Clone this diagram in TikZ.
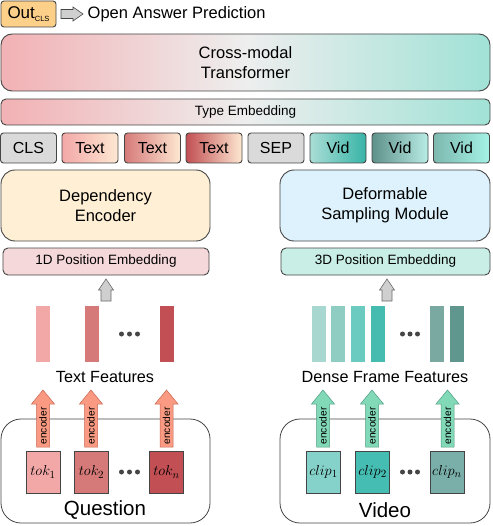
\documentclass[tikz,border=0pt]{standalone}
\usepackage{fontspec}
\setmainfont{Liberation Sans}
\definecolor{lineC}{HTML}{454545}
\definecolor{outC}{HTML}{FDD08A}
\definecolor{pinkL}{HTML}{F2B3B6}
\definecolor{grayM}{HTML}{EEEEEE}
\definecolor{tealR}{HTML}{A3E2D7}
\definecolor{clsC}{HTML}{DADADA}
\definecolor{peach}{HTML}{FDE8D2}
\definecolor{tA}{HTML}{F3A8A8}
\definecolor{tB}{HTML}{D67A79}
\definecolor{tC}{HTML}{C24F53}
\definecolor{vA}{HTML}{A9DDD6}
\definecolor{vB}{HTML}{38B4A7}
\definecolor{vC}{HTML}{5F918B}
\definecolor{vD}{HTML}{B8ECE4}
\definecolor{vE}{HTML}{7DB8AF}
\definecolor{vF}{HTML}{A4F2E6}
\definecolor{depC}{HTML}{FFF0D5}
\definecolor{defC}{HTML}{DDF2FC}
\definecolor{p1C}{HTML}{F5D8DA}
\definecolor{p3C}{HTML}{C8EEE6}
\definecolor{b1}{HTML}{A7D7CF}
\definecolor{b2}{HTML}{8FCCC2}
\definecolor{b3}{HTML}{6CCBC1}
\definecolor{b4}{HTML}{46BCB1}
\definecolor{b5}{HTML}{79A9A1}
\definecolor{b6}{HTML}{5F968D}
\definecolor{c1}{HTML}{85D2CA}
\definecolor{c2}{HTML}{45BDB2}
\definecolor{c3}{HTML}{79AEA9}
\definecolor{salmon}{HTML}{FA9A82}
\definecolor{salmonD}{HTML}{C8644E}
\definecolor{mint}{HTML}{82D9B8}
\definecolor{mintD}{HTML}{4E9C80}
\definecolor{grayA}{HTML}{CFCFCF}
\pgfdeclarehorizontalshading{xmodal}{100bp}{color(0bp)=(pinkL); color(26bp)=(pinkL); color(50bp)=(grayM); color(74bp)=(tealR); color(100bp)=(tealR)}
\tikzset{
  box/.style={draw=lineC, line width=0.9pt, inner sep=0pt, align=center},
  tokbox/.style={box, rounded corners=3pt, minimum width=56pt, minimum height=30pt, font=\fontsize{16}{18}\selectfont},
  bigbox/.style={box, rounded corners=14pt, minimum width=209pt, minimum height=71pt, font=\fontsize{16.5}{19}\selectfont},
  posbox/.style={box, rounded corners=5pt, minimum height=27pt, font=\fontsize{13.5}{16}\selectfont},
  bar/.style={inner sep=0pt, minimum width=14pt, minimum height=56pt},
  inbox/.style={draw=lineC, line width=0.7pt, inner sep=0pt, minimum width=34pt, minimum height=42pt, font=\fontsize{15}{17}\selectfont},
  frame/.style={draw=lineC, line width=0.8pt, rounded corners=20pt, inner sep=0pt, minimum width=209pt, minimum height=104pt},
  lbl/.style={inner sep=0pt, font=\fontsize{16.2}{19}\selectfont},
  biglbl/.style={inner sep=0pt, font=\fontsize{20.5}{24}\selectfont},
  enctext/.style={inner sep=0pt, rotate=90, font=\fontsize{10.2}{12}\selectfont},
  dot/.style={fill=lineC, draw=none, circle, inner sep=0pt, minimum size=5pt},
}
\newcommand{\encarrow}[4]{%
  \draw[fill=#2, draw=#3, line width=0.5pt] (#1-6.5,447) -- (#1-6.5,404) -- (#1-11.5,404) -- (#1,390) -- (#1+11.5,404) -- (#1+6.5,404) -- (#1+6.5,447) -- cycle;
  \node[enctext] (#4) at (#1,426) {encoder};}
\newcommand{\grayup}[1]{%
  \draw[fill=grayA, draw=lineC!80, line width=0.6pt] (#1-5,301) -- (#1-5,290) -- (#1-7.5,290) -- (#1,279) -- (#1+7.5,290) -- (#1+5,290) -- (#1+5,301) -- cycle;}
\begin{document}
\begin{tikzpicture}[x=1pt,y=-1pt]
\useasboundingbox (0,0) rectangle (492,526);
% top row
\node[box, rounded corners=3pt, fill=outC, minimum width=55pt, minimum height=26pt, font=\fontsize{17}{19}\selectfont] (out) at (28.5,14) {Out\raisebox{-2.5pt}{\fontsize{7.5}{8}\selectfont CLS}};
\draw[fill=grayA, draw=lineC, line width=0.6pt] (61,9.5) -- (73,9.5) -- (73,7) -- (83,14) -- (73,21) -- (73,18.5) -- (61,18.5) -- cycle;
\node[inner sep=0pt, anchor=west, font=\fontsize{16.5}{19}\selectfont] (oap) at (87.5,14) {Open Answer Prediction};
% transformer
\node[box, rounded corners=11pt, minimum width=489pt, minimum height=57pt, shading=xmodal, font=\fontsize{16.5}{19}\selectfont] (cmt) at (245.5,62.5) {Cross-modal\\[1pt]Transformer};
\node[box, rounded corners=5pt, minimum width=489pt, minimum height=26pt, shading=xmodal, font=\fontsize{13.5}{16}\selectfont] (te) at (245.5,112) {Type Embedding};
% tokens
\node[tokbox, fill=clsC] (cls) at (28.5,148) {CLS};
\node[tokbox, left color=tA, right color=peach] (tx1) at (90,148) {Text};
\node[tokbox, left color=tB, right color=peach] (tx2) at (152.5,148) {Text};
\node[tokbox, left color=tC, right color=peach] (tx3) at (214,148) {Text};
\node[tokbox, fill=clsC] (sep) at (276,148) {SEP};
\node[tokbox, left color=vA, right color=vB] (vd1) at (338,148) {Vid};
\node[tokbox, left color=vC, right color=vD] (vd2) at (400,148) {Vid};
\node[tokbox, left color=vE, right color=vF] (vd3) at (461.5,148) {Vid};
% encoders
\node[bigbox, fill=depC] (dep) at (105.5,205.5) {Dependency\\[1pt]Encoder};
\node[bigbox, fill=defC, minimum width=210pt] (dsm) at (385,205.5) {Deformable\\[1pt]Sampling Module};
\node[posbox, fill=p1C, minimum width=206pt] (pe1) at (106,261.5) {1D Position Embedding};
\node[posbox, fill=p3C, minimum width=209pt] (pe3) at (385.5,261.5) {3D Position Embedding};
\grayup{106}
\grayup{387}
% text features
\node[bar, fill=tA] (tf1) at (43,334) {};
\node[bar, fill=tB] (tf2) at (92,334) {};
\node[bar, fill=tC] (tf3) at (167,334) {};
\node[dot] (d1a) at (121.5,334) {};
\node[dot] (d1b) at (129.5,334) {};
\node[dot] (d1c) at (137.5,334) {};
\node[lbl] (tfl) at (105,377) {Text Features};
% dense frame features
\node[bar, fill=b1] (ff1) at (319,334) {};
\node[bar, fill=b2] (ff2) at (338,334) {};
\node[bar, fill=b3] (ff3) at (358,334) {};
\node[bar, fill=b4] (ff4) at (378,334) {};
\node[bar, fill=b5] (ff5) at (437,334) {};
\node[bar, fill=b6] (ff6) at (457,334) {};
\node[dot] (d2a) at (402.5,334) {};
\node[dot] (d2b) at (410,334) {};
\node[dot] (d2c) at (417.5,334) {};
\node[lbl] (dffl) at (385,377) {Dense Frame Features};
% frames
\node[frame] (qf) at (105.5,471) {};
\node[frame, minimum width=210pt] (vf) at (385,471) {};
\encarrow{43}{salmon}{salmonD}{e1}
\encarrow{91}{salmon}{salmonD}{e2}
\encarrow{166.5}{salmon}{salmonD}{e3}
\encarrow{323}{mint}{mintD}{e4}
\encarrow{372}{mint}{mintD}{e5}
\encarrow{447.5}{mint}{mintD}{e6}
% inputs
\node[inbox, fill=tA] (tk1) at (43,472) {$tok_1$};
\node[inbox, fill=tB] (tk2) at (91.5,472) {$tok_2$};
\node[inbox, fill=tC] (tk3) at (166.5,472) {$tok_n$};
\node[dot] (d3a) at (121.5,472) {};
\node[dot] (d3b) at (129.5,472) {};
\node[dot] (d3c) at (137.5,472) {};
\node[inbox, fill=c1] (cl1) at (323.5,472) {$clip_1$};
\node[inbox, fill=c2] (cl2) at (372.5,472) {$clip_2$};
\node[inbox, fill=c3] (cl3) at (447,472) {$clip_n$};
\node[dot] (d4a) at (402.5,472) {};
\node[dot] (d4b) at (410,472) {};
\node[dot] (d4c) at (417.5,472) {};
\node[biglbl] (ql) at (105,510) {Question};
\node[biglbl] (vl) at (385,510) {Video};
\end{tikzpicture}
\end{document}
